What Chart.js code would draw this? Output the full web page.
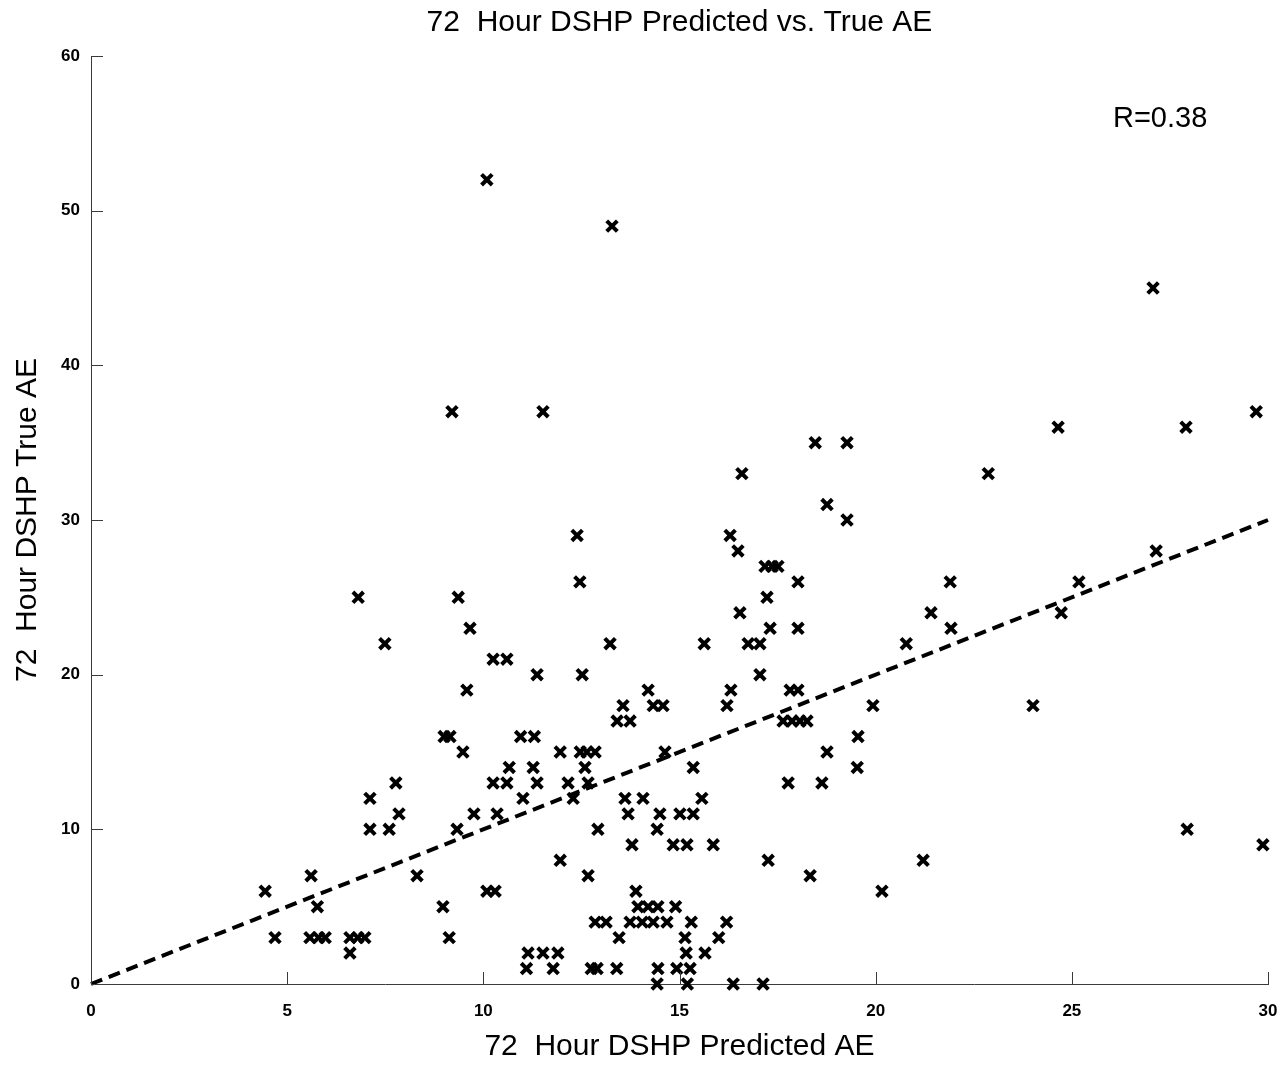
<!DOCTYPE html>
<html>
<head>
<meta charset="utf-8">
<script src="https://cdn.jsdelivr.net/npm/chart.js@4.4.1/dist/chart.umd.min.js"></script>
<style>
html,body{margin:0;padding:0;background:#fff;}
#wrap{width:1282px;height:1065px;}
</style>
</head>
<body>
<div id="wrap"><canvas id="c" width="1282" height="1065"></canvas></div>
<script>
// Predicted AE (x) and true AE (y) for each case
const predicted = [
  10.09, 13.28, 27.07,
  9.20, 11.52, 29.70,
  24.65, 27.91,
  18.46, 19.27,
  16.59, 22.87,
  18.76, 19.27,
  12.39, 16.29,
  16.49, 27.15,
  17.18, 17.36, 17.51,
  12.46, 18.02, 21.90, 25.18,
  6.81, 9.36, 17.23,
  16.54, 21.41, 24.73,
  9.66, 17.31, 18.02, 21.92,
  7.49, 13.23, 15.63, 16.75, 17.05, 20.78,
  10.25, 10.60,
  11.37, 12.52, 17.05,
  9.58, 14.20, 16.31, 17.82, 18.02,
  13.56, 14.33, 14.58, 16.21, 19.93, 24.01,
  13.41, 13.74, 17.64, 17.87, 18.07, 18.25,
  9.00, 9.15, 10.95, 11.30, 19.55,
  9.48, 11.96, 12.47, 12.64, 12.85, 14.63, 18.76,
  10.66, 11.27, 12.59, 15.35, 19.53,
  7.77, 10.25, 10.60, 11.37, 12.16, 12.67, 17.77, 18.63,
  7.11, 11.01, 12.29, 13.61, 14.07, 15.57,
  7.85, 9.76, 10.35, 13.69, 14.50, 15.01, 15.35,
  7.11, 7.60, 9.33, 12.92, 14.43, 27.94,
  13.79, 14.84, 15.19, 15.86, 29.87,
  11.96, 17.26, 21.21,
  5.61, 8.31, 12.67, 18.33,
  4.44, 10.09, 10.30, 13.89, 20.16,
  5.77, 8.97, 13.94, 14.20, 14.45, 14.90,
  12.85, 13.13, 13.74, 14.05, 14.33, 14.68, 15.30, 16.20,
  4.69, 5.58, 5.80, 5.97, 6.60, 6.80, 6.98, 9.13, 13.46, 15.14, 16.00,
  6.60, 11.14, 11.52, 11.90, 15.17, 15.65,
  11.10, 11.78, 12.75, 12.90, 13.40, 14.45, 14.93, 15.27,
  14.43, 15.20, 16.37, 17.13
];
const trueAE = [
  52, 49, 45,
  37, 37, 37,
  36, 36,
  35, 35,
  33, 33,
  31, 30,
  29, 29,
  28, 28,
  27, 27, 27,
  26, 26, 26, 26,
  25, 25, 25,
  24, 24, 24,
  23, 23, 23, 23,
  22, 22, 22, 22, 22, 22,
  21, 21,
  20, 20, 20,
  19, 19, 19, 19, 19,
  18, 18, 18, 18, 18, 18,
  17, 17, 17, 17, 17, 17,
  16, 16, 16, 16, 16,
  15, 15, 15, 15, 15, 15, 15,
  14, 14, 14, 14, 14,
  13, 13, 13, 13, 13, 13, 13, 13,
  12, 12, 12, 12, 12, 12,
  11, 11, 11, 11, 11, 11, 11,
  10, 10, 10, 10, 10, 10,
  9, 9, 9, 9, 9,
  8, 8, 8,
  7, 7, 7, 7,
  6, 6, 6, 6, 6,
  5, 5, 5, 5, 5, 5,
  4, 4, 4, 4, 4, 4, 4, 4,
  3, 3, 3, 3, 3, 3, 3, 3, 3, 3, 3,
  2, 2, 2, 2, 2, 2,
  1, 1, 1, 1, 1, 1, 1, 1,
  0, 0, 0, 0
];
// Fit line end points
const fitX = [0, 30];
const fitY = [0, 30];
// Tick values
const xTicks = [0, 5, 10, 15, 20, 25, 30];
const yTicks = [0, 10, 20, 30, 40, 50, 60];
const titleText = '72  Hour DSHP Predicted vs. True AE';
const xLabel = '72  Hour DSHP Predicted AE';
const yLabel = '72  Hour DSHP True AE';
const rText = 'R=0.38';
const rPos = {x: 27.25, y: 55.9};

const scatterData = predicted.map((v, i) => ({x: v, y: trueAE[i]}));
const fitData = fitX.map((v, i) => ({x: v, y: fitY[i]}));

const FONT = '"Liberation Sans", Arial, Helvetica, sans-serif';

const extras = {
  id: 'extras',
  afterDraw(chart) {
    const ctx = chart.ctx;
    const xs = chart.scales.x, ys = chart.scales.y;
    const area = chart.chartArea;
    ctx.save();
    ctx.strokeStyle = '#3a3a3a';
    ctx.lineWidth = 1;
    const tl = 12;
    xTicks.forEach(v => {
      const px = Math.round(xs.getPixelForValue(v)) + 0.5;
      ctx.beginPath();
      ctx.moveTo(px, area.bottom);
      ctx.lineTo(px, area.bottom - tl);
      ctx.stroke();
    });
    yTicks.forEach(v => {
      const py = Math.round(ys.getPixelForValue(v)) + 0.5;
      ctx.beginPath();
      ctx.moveTo(area.left, py);
      ctx.lineTo(area.left + tl, py);
      ctx.stroke();
    });
    // title
    ctx.fillStyle = '#000';
    ctx.font = '30px ' + FONT;
    ctx.textAlign = 'center';
    ctx.textBaseline = 'middle';
    ctx.fillText(titleText, (area.left + area.right) / 2, 23);
    // R annotation
    ctx.font = '29px ' + FONT;
    ctx.fillText(rText, xs.getPixelForValue(rPos.x), ys.getPixelForValue(rPos.y));
    ctx.restore();
  }
};

new Chart(document.getElementById('c'), {
  type: 'scatter',
  data: {
    datasets: [
      {
        type: 'line',
        data: fitData,
        borderColor: '#000',
        borderWidth: 4,
        borderDash: [12, 7],
        pointRadius: 0,
        fill: false,
        clip: false,
        order: 2
      },
      {
        data: scatterData,
        pointStyle: 'crossRot',
        pointRadius: 7.5,
        pointBorderWidth: 4,
        borderColor: '#000',
        backgroundColor: '#000',
        clip: false,
        order: 1
      }
    ]
  },
  options: {
    responsive: false,
    devicePixelRatio: 1,
    animation: false,
    events: [],
    layout: {padding: {top: 56, right: 14, left: 0, bottom: 0}},
    plugins: {legend: {display: false}, tooltip: {enabled: false}, title: {display: false}},
    scales: {
      x: {
        type: 'linear',
        min: 0, max: 30,
        afterBuildTicks: s => { s.ticks = xTicks.map(v => ({value: v})); },
        afterFit: s => { s.height = 81; s.paddingLeft = 0; s.paddingRight = 0; },
        grid: {display: true, drawOnChartArea: false, drawTicks: false},
        border: {display: true, color: '#3a3a3a', width: 1},
        ticks: {color: '#000', padding: 17, font: {family: FONT, size: 17, weight: 'bold'}, maxRotation: 0},
        title: {display: true, text: xLabel, color: '#000', font: {family: FONT, size: 30}, padding: {top: 0, bottom: 0}}
      },
      y: {
        type: 'linear',
        min: 0, max: 60,
        afterBuildTicks: s => { s.ticks = yTicks.map(v => ({value: v})); },
        afterFit: s => { s.width = 91; s.paddingTop = 0; s.paddingBottom = 0; },
        grid: {display: true, drawOnChartArea: false, drawTicks: false},
        border: {display: true, color: '#3a3a3a', width: 1},
        ticks: {color: '#000', padding: 11, font: {family: FONT, size: 17, weight: 'bold'}},
        title: {display: true, text: yLabel, color: '#000', font: {family: FONT, size: 30}, padding: {top: 10, bottom: 0}}
      }
    }
  },
  plugins: [extras]
});
</script>
</body>
</html>
